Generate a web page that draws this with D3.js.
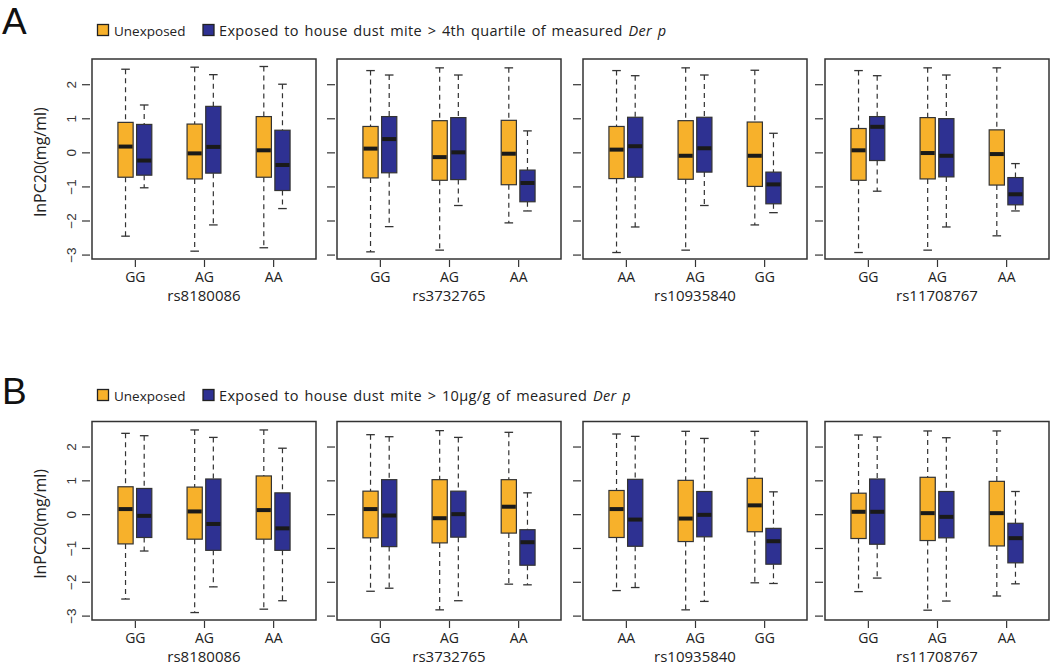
<!DOCTYPE html>
<html>
<head>
<meta charset="utf-8">
<script src="https://cdn.jsdelivr.net/npm/d3@7"></script>
<style>
  html, body { margin: 0; padding: 0; background: #fff; }
  svg { display: block; }
</style>
</head>
<body>
<svg id="chart" width="1050" height="671"></svg>
<script>
// ---------- DATA ----------
const snps = ["rs8180086", "rs3732765", "rs10935840", "rs11708767"];
const genotypes = [["GG", "AG", "AA"], ["GG", "AG", "AA"], ["AA", "AG", "GG"], ["GG", "AG", "AA"]];
const yTicks = [-3, -2, -1, 0, 1, 2];
const seriesNames = ["Unexposed", "Exposed"];
const legendA = ["Exposed to house dust mite > 4th quartile of measured ", "Der p"];
const legendB = ["Exposed to house dust mite > 10\u03BCg/g of measured ", "Der p"];
const yLabel = "lnPC20(mg/ml)";

// each box: [lower whisker, Q1, median, Q3, upper whisker]
const unexposedA = [
  [[-2.46, -0.73, 0.17, 0.88, 2.44], [-2.90, -0.78, -0.03, 0.83, 2.50], [-2.80, -0.73, 0.06, 1.05, 2.52]],
  [[-2.92, -0.75, 0.11, 0.76, 2.40], [-2.87, -0.82, -0.14, 0.93, 2.48], [-2.07, -0.95, -0.04, 0.94, 2.48]],
  [[-2.94, -0.77, 0.08, 0.76, 2.40], [-2.87, -0.79, -0.10, 0.93, 2.48], [-2.13, -1.00, -0.10, 0.89, 2.41]],
  [[-2.94, -0.82, 0.06, 0.70, 2.40], [-2.87, -0.78, -0.02, 1.02, 2.48], [-2.45, -0.96, -0.05, 0.66, 2.48]]
];
const exposedA = [
  [[-1.04, -0.67, -0.24, 0.82, 1.39], [-2.13, -0.61, 0.16, 1.35, 2.28], [-1.65, -1.12, -0.37, 0.65, 2.00]],
  [[-2.18, -0.60, 0.39, 1.05, 2.27], [-1.56, -0.80, 0.00, 1.02, 2.27], [-1.72, -1.45, -0.90, -0.52, 0.63]],
  [[-2.19, -0.73, 0.18, 1.03, 2.25], [-1.56, -0.58, 0.12, 1.03, 2.27], [-1.77, -1.51, -0.94, -0.58, 0.56]],
  [[-1.14, -0.24, 0.75, 1.05, 2.25], [-2.19, -0.72, -0.10, 0.99, 2.27], [-1.72, -1.54, -1.23, -0.74, -0.33]]
];
const unexposedB = [
  [[-2.51, -0.88, 0.15, 0.81, 2.39], [-2.91, -0.74, 0.08, 0.80, 2.49], [-2.81, -0.74, 0.12, 1.13, 2.49]],
  [[-2.28, -0.70, 0.15, 0.68, 2.35], [-2.83, -0.85, -0.12, 1.02, 2.47], [-2.07, -0.56, 0.22, 1.02, 2.42]],
  [[-2.26, -0.69, 0.15, 0.70, 2.37], [-2.83, -0.81, -0.13, 1.00, 2.45], [-2.03, -0.52, 0.26, 1.06, 2.45]],
  [[-2.29, -0.72, 0.07, 0.62, 2.34], [-2.84, -0.78, 0.03, 1.09, 2.46], [-2.42, -0.94, 0.03, 0.97, 2.46]]
];
const exposedB = [
  [[-1.09, -0.69, -0.05, 0.76, 2.32], [-2.15, -1.07, -0.29, 1.04, 2.27], [-2.56, -1.07, -0.42, 0.63, 1.95]],
  [[-2.19, -0.96, -0.04, 1.02, 2.29], [-2.56, -0.68, 0.00, 0.68, 2.27], [-2.09, -1.51, -0.83, -0.46, 0.63]],
  [[-2.17, -0.95, -0.16, 1.03, 2.30], [-2.58, -0.67, -0.02, 0.67, 2.24], [-2.05, -1.48, -0.80, -0.42, 0.66]],
  [[-1.89, -0.89, 0.07, 1.04, 2.28], [-2.57, -0.70, -0.08, 0.67, 2.26], [-2.06, -1.44, -0.71, -0.27, 0.67]]
];

// ---------- STYLE / LAYOUT ----------
const colors = { Unexposed: "#F7B12B", Exposed: "#2E3192" };
const lineCol = "#333";
const frameLefts = [92, 337, 583, 825];
const frameW = 224;

const svg = d3.select("#chart");

function drawPanel(cfg) {
  const g = svg.append("g");
  // panel letter
  g.append("text").attr("x", 2).attr("y", cfg.letterY)
    .attr("font-family", "Liberation Sans, Arial, sans-serif").attr("font-size", 37)
    .attr("fill", "#111").text(cfg.letter);

  // legend
  const lg = g.append("g").attr("transform", `translate(0,${cfg.legendY})`);
  lg.append("rect").attr("x", 97.5).attr("y", -11.5).attr("width", 11).attr("height", 11)
    .attr("fill", colors.Unexposed).attr("stroke", "#222").attr("stroke-width", 1.3);
  lg.append("text").attr("x", 114).attr("y", 0).attr("font-family", "Open Sans, sans-serif")
    .attr("font-size", 13.5).attr("fill", "#222").text(seriesNames[0]);
  lg.append("rect").attr("x", 203).attr("y", -11.5).attr("width", 11).attr("height", 11)
    .attr("fill", colors.Exposed).attr("stroke", "#222").attr("stroke-width", 1.3);
  const t = lg.append("text").attr("x", 219).attr("y", 0).attr("font-family", "Open Sans, sans-serif")
    .attr("font-size", 14.5).attr("letter-spacing", 0.35).attr("word-spacing", 1.5).attr("fill", "#222");
  t.append("tspan").text(cfg.legend[0]);
  t.append("tspan").attr("font-style", "italic").text(cfg.legend[1]);

  const y = d3.scaleLinear().domain([-3.13, 2.74]).range([cfg.bottom, cfg.top]);

  // y axis label
  g.append("text")
    .attr("transform", `translate(46,${(cfg.top + cfg.bottom) / 2 + 3}) rotate(-90)`)
    .attr("text-anchor", "middle").attr("font-family", "Open Sans, sans-serif")
    .attr("font-size", 16).attr("fill", "#222").text(yLabel);

  snps.forEach((snp, i) => {
    const left = frameLefts[i];
    const x = d3.scaleLinear().domain([0.38, 3.62]).range([left, left + frameW]);
    const sg = g.append("g");

    // y axis (labels only on the first subplot)
    const yAxis = d3.axisLeft(y).tickValues(yTicks).tickSize(8).tickPadding(6)
      .tickFormat(d => i === 0 ? (d < 0 ? "\u2212" + Math.abs(d) : d) : "");
    const ya = sg.append("g").attr("transform", `translate(${left - 2},0)`).call(yAxis);
    ya.select(".domain").remove();
    ya.selectAll(".tick line").attr("stroke", lineCol).attr("stroke-width", 1.2);
    ya.selectAll(".tick text")
      .attr("font-family", "Liberation Sans, Arial, sans-serif").attr("font-size", 13.5)
      .attr("fill", "#333")
      .attr("text-anchor", "middle")
      .attr("transform", "translate(-19,0) rotate(-90)")
      .attr("x", null).attr("y", 0).attr("dy", "0.35em");

    // x axis
    const xAxis = d3.axisBottom(x).tickValues([1, 2, 3]).tickSize(7).tickPadding(5)
      .tickFormat((d) => genotypes[i][d - 1]);
    const xa = sg.append("g").attr("transform", `translate(0,${cfg.bottom + 1})`).call(xAxis);
    xa.select(".domain").remove();
    xa.selectAll(".tick line").attr("stroke", lineCol).attr("stroke-width", 1.2);
    xa.selectAll(".tick text").attr("font-family", "Open Sans, sans-serif")
      .attr("font-size", 14).attr("fill", "#222");

    // snp label
    sg.append("text").attr("x", left + frameW / 2).attr("y", cfg.bottom + 42)
      .attr("text-anchor", "middle").attr("font-family", "Open Sans, sans-serif")
      .attr("font-size", 15).attr("fill", "#222").text(snp);

    // boxes
    const series = [
      { name: "Unexposed", data: cfg.unexposed[i], off: -0.135 },
      { name: "Exposed", data: cfg.exposed[i], off: 0.135 }
    ];
    const bw = 0.22;
    series.forEach(s => {
      s.data.forEach((st, k) => {
        const cx = x(k + 1 + s.off);
        const x0 = x(k + 1 + s.off - bw / 2), x1 = x(k + 1 + s.off + bw / 2);
        const capHalf = (x1 - x0) / 4 + 0.5;
        const bg = sg.append("g");
        // whiskers
        bg.append("line").attr("x1", cx).attr("x2", cx).attr("y1", y(st[4])).attr("y2", y(st[3]))
          .attr("stroke", lineCol).attr("stroke-width", 1.2).attr("stroke-dasharray", "5,4");
        bg.append("line").attr("x1", cx).attr("x2", cx).attr("y1", y(st[1])).attr("y2", y(st[0]))
          .attr("stroke", lineCol).attr("stroke-width", 1.2).attr("stroke-dasharray", "5,4");
        // caps
        [st[0], st[4]].forEach(v => {
          bg.append("line").attr("x1", cx - capHalf).attr("x2", cx + capHalf)
            .attr("y1", y(v)).attr("y2", y(v)).attr("stroke", lineCol).attr("stroke-width", 1.3);
        });
        // box
        bg.append("rect").attr("x", x0).attr("width", x1 - x0)
          .attr("y", y(st[3])).attr("height", y(st[1]) - y(st[3]))
          .attr("fill", colors[s.name]).attr("stroke", lineCol).attr("stroke-width", 1.2);
        // median
        bg.append("line").attr("x1", x0 + 0.6).attr("x2", x1 - 0.6)
          .attr("y1", y(st[2])).attr("y2", y(st[2]))
          .attr("stroke", "#1a1a1a").attr("stroke-width", 4);
      });
    });

    // frame
    sg.append("rect").attr("x", left).attr("y", cfg.top).attr("width", frameW)
      .attr("height", cfg.bottom - cfg.top).attr("fill", "none")
      .attr("stroke", lineCol).attr("stroke-width", 1.5);
  });
}

drawPanel({
  letter: "A", letterY: 34, legendY: 36, legend: legendA,
  top: 59, bottom: 259, unexposed: unexposedA, exposed: exposedA
});
drawPanel({
  letter: "B", letterY: 404, legendY: 401, legend: legendB,
  top: 421.5, bottom: 620, unexposed: unexposedB, exposed: exposedB
});
</script>
</body>
</html>
